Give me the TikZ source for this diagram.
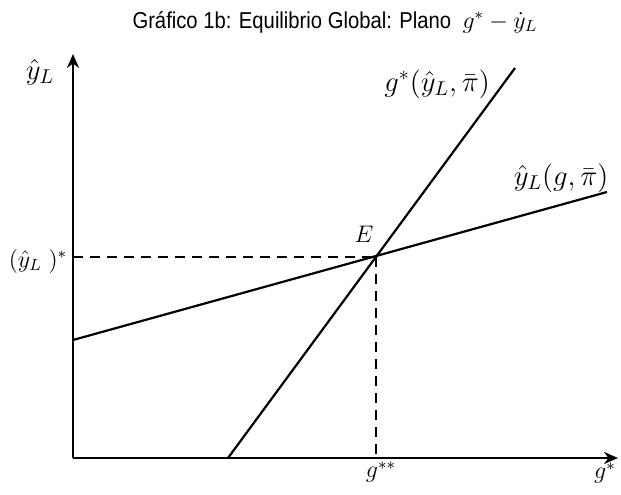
\documentclass[tikz,border=0pt]{standalone}
\usepackage{fontspec}
\usepackage{amsmath}
\usetikzlibrary{arrows.meta}
\newfontfamily\titlefont[FakeStretch=0.88]{Liberation Sans}

\begin{document}
\begin{tikzpicture}[x=0.5pt,y=0.5pt]
\tikzset{
  axis/.style={line width=1.3pt,-{Stealth[length=7pt,width=6pt]}},
  curve/.style={line width=1.1pt},
  guide/.style={line width=1.1pt,dash pattern=on 5pt off 3.5pt},
  lbl/.style={inner sep=1pt,font=\large},
  linelbl/.style={inner sep=1pt,font=\Large}
}
\useasboundingbox (0,0) rectangle (621,494);
% ejes
\coordinate (O) at (73,36);
\coordinate (ytop) at (73,440);
\coordinate (xend) at (618,36);
\draw[axis] (O) -- (ytop);
\draw[axis] (O) -- (xend);
% rectas
\coordinate (gA) at (228,36);
\coordinate (gB) at (515,426);
\coordinate (yA) at (73,154);
\coordinate (yB) at (607,302);
\draw[curve] (gA) -- (gB);
\draw[curve] (yA) -- (yB);
% equilibrio
\coordinate (E) at (376,237);
\coordinate (Ey) at (73,237);
\coordinate (Ex) at (376,36);
\draw[guide] (Ey) -- (E);
\draw[guide] (E) -- (Ex);
% textos
\node (title) at (335,472) {\titlefont\fontsize{11.5}{13}\selectfont Gráfico 1b: Equilibrio Global: Plano\ \ $\large g^{*}-\dot{y}_{L}$};
\node[linelbl] (ylab) at (40,422) {$\hat{y}_{L}$};
\node[lbl] (ystar) at (38,233) {$(\hat{y}_{L}\;)^{*}$};
\node[lbl] (elab) at (364,260) {$E$};
\node[lbl] (gss) at (381,22) {$g^{**}$};
\node[lbl] (xlab) at (605,21) {$g^{*}$};
\node[linelbl] (gline) at (437,410) {$g^{*}(\hat{y}_{L},\bar{\pi})$};
\node[linelbl] (yline) at (561,316) {$\hat{y}_{L}(g,\bar{\pi})$};
\end{tikzpicture}
\end{document}
